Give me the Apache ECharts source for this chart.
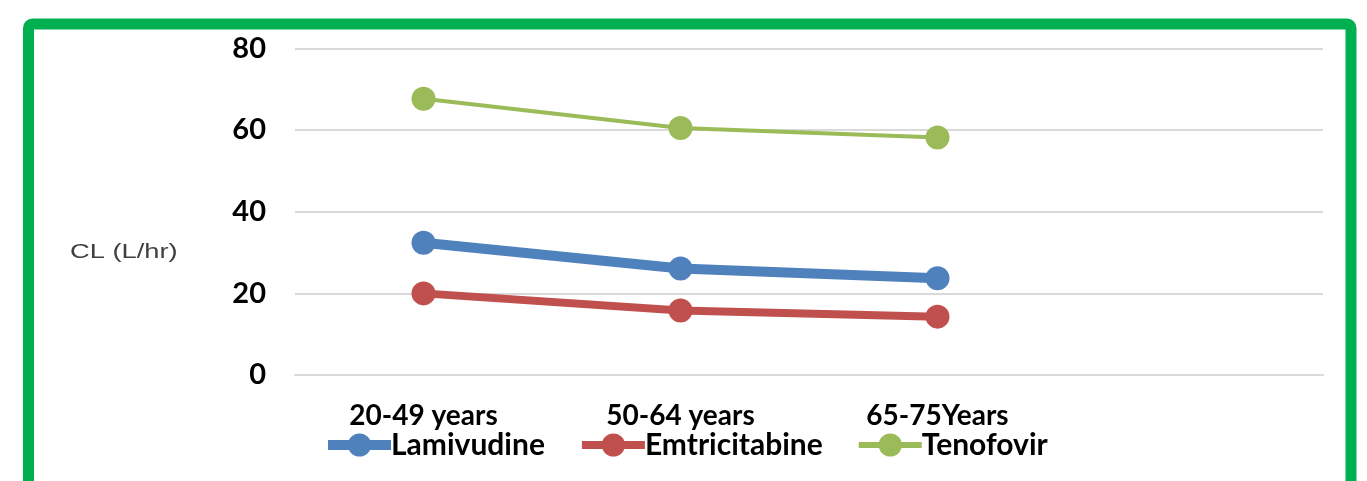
<!DOCTYPE html>
<html>
<head>
<meta charset="utf-8">
<script src="https://cdn.jsdelivr.net/npm/echarts@6/dist/echarts.min.js"></script>
<style>
  html, body { margin: 0; padding: 0; background: #ffffff; }
  #chart { width: 1367px; height: 481px; }
</style>
</head>
<body>
<div id="chart"></div>
<script>
// Age groups (last slot left empty to keep the plot area wide)
const ageGroups = ['20-49 years', '50-64 years', '65-75Years', ''];
// Clearance, L/hr
const lamivudine = [32.4, 26.1, 23.7];
const emtricitabine = [20.0, 15.8, 14.3];
const tenofovir = [67.7, 60.5, 58.2];
const yTicks = [0, 20, 40, 60, 80];
const seriesNames = ['Lamivudine', 'Emtricitabine', 'Tenofovir'];
const seriesColors = ['#4f81bd', '#c0504d', '#9bbb59'];
const lineWidths = [10, 8, 4];

const boldFont = 'Lato, "Open Sans", sans-serif';

const chart = echarts.init(document.getElementById('chart'));

function lineSeries(i, data) {
  const color = seriesColors[i];
  return {
    name: seriesNames[i],
    type: 'line',
    data: data,
    symbol: 'circle',
    symbolSize: 24,
    color: color,
    lineStyle: { color: color, width: lineWidths[i] },
    itemStyle: { color: color },
    emphasis: { disabled: true },
    animation: false
  };
}

chart.setOption({
  backgroundColor: '#ffffff',
  animation: false,
  grid: { left: 295, right: 44, top: 48.5, height: 326.5, containLabel: false },
  xAxis: {
    type: 'category',
    data: ageGroups,
    boundaryGap: true,
    axisLine: { show: true, lineStyle: { color: '#d9d9d9', width: 2 } },
    axisTick: { show: false },
    axisLabel: { margin: 27, fontFamily: boldFont, fontWeight: 'bold', fontSize: 28, color: '#000000' },
    splitLine: { show: false }
  },
  yAxis: {
    type: 'value',
    min: yTicks[0],
    max: yTicks[yTicks.length - 1],
    interval: 20,
    axisLine: { show: false },
    axisTick: { show: false },
    axisLabel: { margin: 29, fontFamily: boldFont, fontWeight: 'bold', fontSize: 29, color: '#000000' },
    splitLine: { lineStyle: { color: '#d9d9d9', width: 2 } }
  },
  legend: {
    left: 318,
    top: 425,
    itemWidth: 63,
    itemHeight: 29,
    itemGap: 33,
    textStyle: { fontFamily: boldFont, fontWeight: 'bold', fontSize: 30, color: '#000000', padding: [0, 0, 0, -5] },
    data: seriesNames.map((n, i) => ({
      name: n,
      lineStyle: { color: seriesColors[i], width: Math.max(lineWidths[i], 6) },
      itemStyle: { color: seriesColors[i] }
    }))
  },
  series: [
    lineSeries(0, lamivudine),
    lineSeries(1, emtricitabine),
    lineSeries(2, tenofovir)
  ],
  graphic: [{
    type: 'text',
    silent: true,
    x: 70,
    y: 252,
    scaleX: 1.3,
    style: {
      text: 'CL (L/hr)',
      font: '21px "Liberation Sans", Arial, sans-serif',
      fill: '#404040',
      textVerticalAlign: 'middle'
    }
  }, {
    type: 'rect',
    silent: true,
    shape: { x: 28.5, y: 24, width: 1322.5, height: 480, r: 4 },
    style: { fill: 'none', stroke: '#00b050', lineWidth: 11 }
  }]
});
</script>
</body>
</html>
